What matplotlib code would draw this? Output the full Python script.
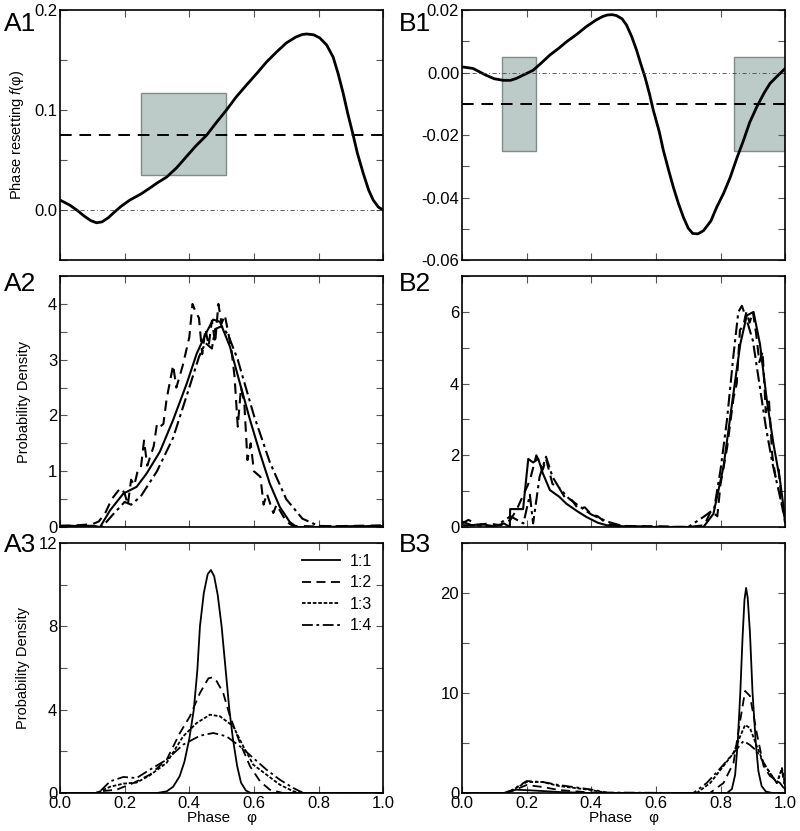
import numpy as np
import matplotlib.pyplot as plt
from matplotlib.patches import Rectangle
from matplotlib.ticker import MultipleLocator

plt.rcParams['font.family'] = ['Liberation Sans', 'DejaVu Sans']
plt.rcParams['mathtext.fontset'] = 'custom'
plt.rcParams['mathtext.rm'] = 'Liberation Sans'
plt.rcParams['mathtext.it'] = 'Liberation Sans:italic'

# ---- A1: phase resetting curve ----
a1_x = [0.0, 0.03, 0.052, 0.075, 0.095, 0.113, 0.13, 0.15, 0.165, 0.19, 0.216, 0.25, 0.278, 0.30, 0.33,
        0.36, 0.39, 0.42, 0.454, 0.485, 0.515, 0.545, 0.577, 0.61, 0.639, 0.67, 0.70, 0.73, 0.75, 0.763,
        0.785, 0.804, 0.825, 0.845, 0.86, 0.876, 0.89, 0.907, 0.92, 0.938, 0.955, 0.969, 0.985, 1.0]
a1_y = [0.01, 0.005, 0.0, -0.006, -0.0105, -0.0127, -0.0118, -0.0075, -0.003, 0.004, 0.01, 0.016, 0.022,
        0.027, 0.033, 0.042, 0.053, 0.064, 0.075, 0.088, 0.1, 0.113, 0.125, 0.137, 0.148, 0.158, 0.167,
        0.173, 0.1755, 0.176, 0.1752, 0.172, 0.165, 0.153, 0.137, 0.117, 0.097, 0.075, 0.057, 0.037, 0.02,
        0.01, 0.003, 0.0]
a1_box = (0.25, 0.035, 0.265, 0.082)
a1_mean = 0.075

# ---- B1 ----
b1_x = [0.0, 0.034, 0.075, 0.10, 0.127, 0.15, 0.168, 0.19, 0.22, 0.245, 0.272, 0.30, 0.323, 0.355, 0.385,
        0.415, 0.435, 0.45, 0.465, 0.478, 0.495, 0.509, 0.525, 0.54, 0.553, 0.566, 0.58, 0.592, 0.61,
        0.623, 0.64, 0.654, 0.67, 0.685, 0.70, 0.714, 0.73, 0.747, 0.77, 0.788, 0.81, 0.83, 0.85, 0.871,
        0.89, 0.912, 0.935, 0.953, 0.975, 1.0]
b1_y = [0.0018, 0.0013, -0.0009, -0.002, -0.0025, -0.0025, -0.0019, -0.0008, 0.0007, 0.003, 0.0056,
        0.0078, 0.0098, 0.0122, 0.0147, 0.0168, 0.0179, 0.0184, 0.0185, 0.0182, 0.0172, 0.0152, 0.0115,
        0.0072, 0.0028, -0.0014, -0.0068, -0.0121, -0.0188, -0.0249, -0.0315, -0.0367, -0.042, -0.0463,
        -0.0498, -0.0515, -0.0516, -0.0506, -0.0475, -0.0431, -0.0385, -0.0335, -0.0275, -0.0217, -0.016,
        -0.011, -0.0065, -0.0035, -0.0012, 0.0013]
b1_boxes = [(0.123, -0.025, 0.105, 0.03), (0.843, -0.025, 0.157, 0.03)]
b1_mean = -0.01

# ---- A2: probability densities ----
a2_solid_x = [0.0, 0.05, 0.10, 0.124, 0.155, 0.196, 0.237, 0.268, 0.309, 0.35, 0.392, 0.423, 0.454, 0.474,
              0.495, 0.526, 0.557, 0.588, 0.619, 0.649, 0.68, 0.711, 0.732, 0.8, 0.9, 1.0]
a2_solid_y = [0.02, 0.02, 0.02, 0.0, 0.3, 0.6, 0.72, 0.96, 1.35, 1.92, 2.57, 3.11, 3.5, 3.72, 3.68, 3.23,
              2.57, 1.92, 1.32, 0.78, 0.36, 0.09, 0.0, 0.0, 0.01, 0.02]
a2_dash_x = [0.0, 0.05, 0.1, 0.12, 0.14, 0.16, 0.18, 0.19, 0.2, 0.21, 0.22, 0.23, 0.24, 0.25, 0.26, 0.27,
             0.29, 0.3, 0.31, 0.32, 0.33, 0.35, 0.36, 0.38, 0.4, 0.41, 0.42, 0.43, 0.44, 0.45, 0.46, 0.47,
             0.48, 0.49, 0.5, 0.51, 0.52, 0.53, 0.54, 0.55, 0.56, 0.57, 0.58, 0.59, 0.6, 0.62, 0.63, 0.64,
             0.66, 0.67, 0.7, 0.72, 0.8, 0.9, 1.0]
a2_dash_y = [0.02, 0.03, 0.05, 0.1, 0.25, 0.5, 0.65, 0.7, 0.6, 0.4, 0.85, 0.75, 1.0, 1.05, 1.55, 1.1, 1.45,
             1.85, 1.8, 1.85, 2.3, 2.9, 2.5, 2.9, 3.4, 4.0, 3.85, 3.75, 3.1, 3.55, 3.25, 3.7, 3.3, 4.0, 3.65,
             3.8, 3.5, 3.2, 2.7, 1.8, 2.5, 2.25, 1.2, 1.5, 1.0, 0.9, 0.4, 0.6, 0.25, 0.4, 0.1, 0.02, 0.01,
             0.02, 0.03]
a2_dd_x = [0.0, 0.1, 0.13, 0.16, 0.2, 0.22, 0.25, 0.3, 0.35, 0.4, 0.43, 0.45, 0.47, 0.48, 0.5, 0.52, 0.55,
           0.6, 0.65, 0.7, 0.75, 0.8, 0.9, 1.0]
a2_dd_y = [0.02, 0.02, 0.0, 0.2, 0.45, 0.4, 0.55, 1.0, 1.6, 2.5, 3.05, 3.3, 3.2, 3.55, 3.6, 3.45, 3.0, 2.0,
           1.15, 0.5, 0.15, 0.02, 0.01, 0.02]

# ---- B2 ----
b2_solid_x = [0.0, 0.03, 0.06, 0.1, 0.13, 0.148, 0.149, 0.189, 0.205, 0.22, 0.236, 0.25, 0.272, 0.3, 0.323,
              0.355, 0.385, 0.42, 0.447, 0.5, 0.6, 0.7, 0.747, 0.778, 0.809, 0.84, 0.861, 0.881, 0.902,
              0.922, 0.943, 0.964, 0.984, 1.0]
b2_solid_y = [0.15, 0.05, 0.08, 0.02, 0.1, 0.0, 0.5, 0.5, 1.9, 1.8, 1.9, 1.5, 1.03, 0.85, 0.65, 0.45, 0.28,
              0.12, 0.05, 0.02, 0.0, 0.0, 0.0, 0.37, 1.68, 3.74, 5.1, 5.9, 6.0, 5.1, 3.55, 2.3, 1.3, 0.2]
b2_dash_x = [0.0, 0.02, 0.05, 0.08, 0.12, 0.15, 0.17, 0.19, 0.21, 0.23, 0.25, 0.26, 0.28, 0.3, 0.32,
             0.34, 0.36, 0.38, 0.4, 0.42, 0.45, 0.5, 0.6, 0.7, 0.75, 0.77, 0.79, 0.8, 0.82, 0.84, 0.85,
             0.86, 0.87, 0.88, 0.89, 0.9, 0.91, 0.92, 0.93, 0.94, 0.95, 0.96, 0.97, 0.98, 0.99, 1.0]
b2_dash_y = [0.1, 0.2, 0.05, 0.1, 0.05, 0.2, 0.5, 0.9, 1.3, 2.0, 1.6, 1.9, 1.2, 1.1, 0.8, 0.75, 0.5, 0.55,
             0.35, 0.3, 0.08, 0.03, 0.02, 0.0, 0.05, 0.45, 0.3, 1.2, 2.2, 3.6, 4.0, 5.5, 5.6, 6.0, 5.7, 6.0,
             5.4, 4.6, 4.9, 3.2, 3.5, 2.0, 1.4, 1.6, 0.6, 0.1]
b2_dd_x = [0.0, 0.05, 0.1, 0.15, 0.19, 0.21, 0.22, 0.24, 0.26, 0.28, 0.3, 0.33, 0.36, 0.4, 0.45, 0.5,
           0.7, 0.75, 0.78, 0.8, 0.82, 0.84, 0.855, 0.866, 0.88, 0.9, 0.92, 0.94, 0.96, 0.98, 1.0]
b2_dd_y = [0.05, 0.05, 0.0, 0.3, 0.1, 0.9, 0.1, 1.4, 1.96, 1.4, 1.1, 0.8, 0.6, 0.35, 0.15, 0.02, 0.0, 0.3,
           0.5, 1.6, 3.0, 4.8, 6.0, 6.17, 5.8, 5.2, 4.0, 2.8, 1.8, 1.0, 0.2]

# ---- A3 ----
a3_x11 = [0.0, 0.3, 0.33, 0.35, 0.37, 0.385, 0.40, 0.414, 0.425, 0.433, 0.445, 0.457, 0.467, 0.477, 0.488,
          0.50, 0.512, 0.524, 0.535, 0.548, 0.56, 0.575, 0.59, 1.0]
a3_y11 = [0.0, 0.0, 0.08, 0.3, 0.8, 1.5, 2.6, 4.0, 5.9, 8.0, 9.6, 10.5, 10.7, 10.4, 9.5, 8.0, 6.0, 4.0, 2.6,
          1.3, 0.5, 0.12, 0.0, 0.0]
a3_x12 = [0.0, 0.11, 0.124, 0.175, 0.227, 0.278, 0.33, 0.371, 0.402, 0.433, 0.459, 0.472, 0.485, 0.505,
          0.526, 0.557, 0.588, 0.619, 0.649, 0.69, 1.0]
a3_y12 = [0.0, 0.0, 0.08, 0.16, 0.48, 0.88, 1.6, 2.88, 3.68, 4.8, 5.5, 5.55, 5.36, 4.8, 3.68, 2.4, 1.28,
          0.56, 0.16, 0.0, 0.0]
a3_x13 = [0.0, 0.11, 0.124, 0.155, 0.196, 0.237, 0.278, 0.33, 0.381, 0.423, 0.464, 0.495, 0.536, 0.567,
          0.598, 0.639, 0.68, 0.722, 0.753, 1.0]
a3_y13 = [0.0, 0.0, 0.08, 0.3, 0.45, 0.5, 0.85, 1.45, 2.72, 3.36, 3.76, 3.68, 3.2, 2.24, 1.36, 0.88, 0.4,
          0.08, 0.0, 0.0]
a3_x14 = [0.0, 0.11, 0.124, 0.155, 0.196, 0.237, 0.278, 0.33, 0.381, 0.433, 0.474, 0.515, 0.557, 0.598,
          0.639, 0.68, 0.722, 0.753, 1.0]
a3_y14 = [0.0, 0.0, 0.08, 0.56, 0.77, 0.72, 1.12, 1.6, 2.32, 2.75, 2.88, 2.72, 2.24, 1.68, 1.12, 0.64, 0.24,
          0.0, 0.0]

# ---- B3 ----
b3_x11 = [0.0, 0.13, 0.143, 0.168, 0.21, 0.25, 0.3, 0.35, 0.4, 0.82, 0.835, 0.845, 0.853, 0.861, 0.868,
          0.874, 0.879, 0.884, 0.891, 0.899, 0.909, 0.917, 0.927, 0.94, 0.96, 1.0]
b3_y11 = [0.0, 0.0, 0.17, 0.33, 0.27, 0.2, 0.1, 0.05, 0.0, 0.0, 0.4, 1.8, 5.0, 10.0, 15.5, 19.3, 20.5, 19.5,
          16.0, 10.0, 5.0, 2.2, 0.7, 0.15, 0.0, 0.0]
b3_x12 = [0.0, 0.14, 0.2, 0.25, 0.3, 0.4, 0.45, 0.767, 0.809, 0.84, 0.861, 0.876, 0.891, 0.912, 0.933,
          0.953, 0.984, 1.0]
b3_y12 = [0.0, 0.0, 0.8, 0.6, 0.3, 0.05, 0.0, 0.0, 1.0, 3.0, 7.3, 10.2, 9.7, 6.0, 2.7, 1.7, 1.0, 0.3]
b3_x13 = [0.0, 0.14, 0.2, 0.25, 0.3, 0.4, 0.45, 0.726, 0.768, 0.809, 0.84, 0.861, 0.876, 0.891, 0.912,
          0.933, 0.953, 0.974, 0.99, 1.0]
b3_y13 = [0.0, 0.0, 1.1, 1.1, 0.7, 0.3, 0.0, 0.0, 1.0, 2.7, 4.0, 5.7, 6.8, 6.5, 4.7, 3.0, 2.0, 1.0, 2.5, 0.7]
b3_x14 = [0.0, 0.14, 0.2, 0.25, 0.3, 0.4, 0.45, 0.716, 0.757, 0.8, 0.84, 0.871, 0.891, 0.912, 0.943,
          0.974, 0.99, 1.0]
b3_y14 = [0.0, 0.0, 1.2, 1.1, 0.8, 0.35, 0.05, 0.0, 1.0, 2.5, 4.0, 5.2, 4.8, 4.2, 2.5, 1.0, 2.3, 0.3]

legend_labels = ['1:1', '1:2', '1:3', '1:4']

# line styles
LS = {'1:1': '-', '1:2': (0, (5, 3)), '1:3': (0, (2, 1)), '1:4': (0, (6, 2, 1.5, 2))}
BOX_FACE = '#bccbc7'
BOX_EDGE = '#7f8c88'

fig = plt.figure(figsize=(8, 8.31), dpi=100)
colA, colB, w = 0.075, 0.5775, 0.404
rows = [(0.687, 0.301), (0.3658, 0.302), (0.0457, 0.301)]

axes = {}
for i, (b, h) in enumerate(rows):
    axes['A%d' % (i + 1)] = fig.add_axes([colA, b, w, h])
    axes['B%d' % (i + 1)] = fig.add_axes([colB, b, w, h])


def style(ax, ymax, ymin, major, minor, fmt=None, bottom_labels=False):
    ax.set_xlim(0, 1)
    ax.set_ylim(ymin, ymax)
    ax.xaxis.set_major_locator(MultipleLocator(0.2))
    ax.yaxis.set_major_locator(MultipleLocator(major))
    ax.yaxis.set_minor_locator(MultipleLocator(minor))
    ax.tick_params(which='both', direction='in', top=True, right=True, length=5, width=0.8,
                   labelsize=12, color='#555555', pad=2)
    if fmt:
        ax.yaxis.set_major_formatter(fmt)
    if not bottom_labels:
        ax.set_xticklabels([])
    else:
        ax.xaxis.set_major_formatter(plt.FormatStrFormatter('%.1f'))
        ax.set_xlabel('Phase    \u03c6', fontsize=11, labelpad=0)
    for s in ax.spines.values():
        s.set_linewidth(1.2)


# A1
ax = axes['A1']
ax.plot(a1_x, a1_y, 'k-', lw=2)
ax.add_patch(Rectangle(a1_box[:2], a1_box[2], a1_box[3], facecolor=BOX_FACE, edgecolor=BOX_EDGE, lw=1, zorder=1))
ax.axhline(a1_mean, color='k', ls=(0, (6, 4)), lw=1.4)
ax.axhline(0, color='#444444', ls=(0, (5, 3, 1, 3)), lw=0.6)
style(ax, 0.2, -0.05, 0.1, 0.05, plt.FormatStrFormatter('%.1f'))
ax.set_ylabel('Phase resetting $f$(\u03c6)', fontsize=10.5, labelpad=6)

# B1
ax = axes['B1']
ax.plot(b1_x, b1_y, 'k-', lw=2)
for bx in b1_boxes:
    ax.add_patch(Rectangle(bx[:2], bx[2], bx[3], facecolor=BOX_FACE, edgecolor=BOX_EDGE, lw=1, zorder=1))
ax.axhline(b1_mean, color='k', ls=(0, (6, 4)), lw=1.4)
ax.axhline(0, color='#444444', ls=(0, (5, 3, 1, 3)), lw=0.6)
style(ax, 0.02, -0.06, 0.02, 0.01, plt.FormatStrFormatter('%.2f'))

# A2
ax = axes['A2']
ax.plot(a2_solid_x, a2_solid_y, color='k', ls=LS['1:1'], lw=1.5)
ax.plot(a2_dash_x, a2_dash_y, color='k', ls=LS['1:2'], lw=1.5)
ax.plot(a2_dd_x, a2_dd_y, color='k', ls=LS['1:4'], lw=1.5)
style(ax, 4.5, 0, 1, 0.5)
ax.set_ylabel('Probability Density', fontsize=10.5, labelpad=12)

# B2
ax = axes['B2']
ax.plot(b2_solid_x, b2_solid_y, color='k', ls=LS['1:1'], lw=1.5)
ax.plot(b2_dash_x, b2_dash_y, color='k', ls=LS['1:2'], lw=1.5)
ax.plot(b2_dd_x, b2_dd_y, color='k', ls=LS['1:4'], lw=1.5)
style(ax, 7, 0, 2, 1)

# A3
ax = axes['A3']
for xs, ys, lab in zip([a3_x11, a3_x12, a3_x13, a3_x14], [a3_y11, a3_y12, a3_y13, a3_y14], legend_labels):
    ax.plot(xs, ys, color='k', ls=LS[lab], lw=1.3, label=lab)
style(ax, 12, 0, 4, 2, bottom_labels=True)
ax.set_ylabel('Probability Density', fontsize=10.5, labelpad=6)
ax.legend(loc='upper right', frameon=False, fontsize=11.5, handlelength=2.4, labelspacing=0.4,
          borderaxespad=0.3, handletextpad=0.6)

# B3
ax = axes['B3']
for xs, ys, lab in zip([b3_x11, b3_x12, b3_x13, b3_x14], [b3_y11, b3_y12, b3_y13, b3_y14], legend_labels):
    ax.plot(xs, ys, color='k', ls=LS[lab], lw=1.3)
style(ax, 25, 0, 10, 5, bottom_labels=True)

# panel labels
for name, x, y in [('A1', 0.005, 1 - 24 / 831), ('B1', 0.499, 1 - 24 / 831),
                   ('A2', 0.005, 1 - 284 / 831), ('B2', 0.499, 1 - 284 / 831),
                   ('A3', 0.005, 1 - 545 / 831), ('B3', 0.499, 1 - 545 / 831)]:
    fig.text(x, y, name, fontsize=19, va='center', ha='left')

fig.savefig('out.png', dpi=100)
